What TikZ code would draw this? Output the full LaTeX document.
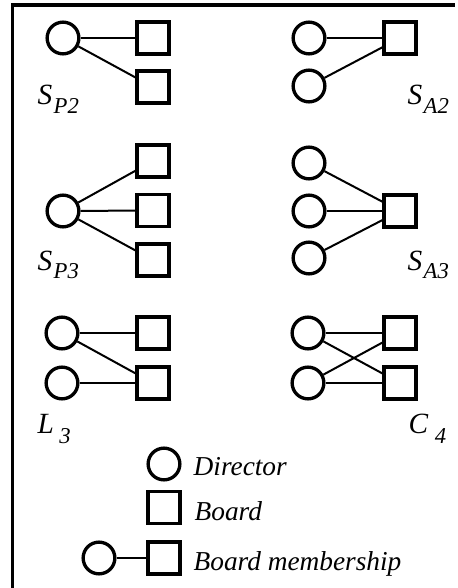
\documentclass[tikz,border=0pt]{standalone}
\usepackage{fontspec}
\setmainfont{Liberation Serif}[ItalicFont={Liberation Serif Italic}]
\newfontfamily\capfont{Liberation Serif Italic}
\usetikzlibrary{positioning}
% motif name with a lowered subscript
\newcommand{\motif}[3][6pt]{#2\kern1pt\raisebox{-#1}{\fontsize{17}{17}\selectfont #3}}

\begin{document}
\begin{tikzpicture}[x=0.75pt, y=-0.75pt, line width=2.5pt,
    director/.style={circle, draw, minimum size=23.8pt, inner sep=0pt},
    board/.style={rectangle, draw, minimum size=23.8pt, inner sep=0pt},
    tie/.style={line width=1.5pt},
    caption/.style={anchor=base west, inner sep=0pt, font=\capfont\fontsize{20.5}{21}\selectfont}]
    \useasboundingbox (0,0) rectangle (457,588);
    \draw[line width=2.6pt] (12.5,590) -- (12.5,5) -- (455,5);

    % S_P2
    \node[director] (p2d) at (63,38) {};
    \node[board] (p2a) at (153,38) {};
    \node[board] (p2b) at (153,87) {};
    \draw[tie] (p2d) -- (p2a);
    \draw[tie] (p2d) -- (p2b);
    \node[caption] (p2l) at (36,105) {\fontsize{22}{22}\selectfont\motif{S}{P2}};

    % S_A2
    \node[director] (a2a) at (309,38) {};
    \node[director] (a2b) at (309,86) {};
    \node[board] (a2d) at (400,38) {};
    \draw[tie] (a2a) -- (a2d);
    \draw[tie] (a2b) -- (a2d);
    \node[caption] (a2l) at (406,105) {\fontsize{22}{22}\selectfont\motif{S}{A2}};

    % S_P3
    \node[director] (p3d) at (63,211) {};
    \node[board] (p3a) at (153,161) {};
    \node[board] (p3b) at (153,210.5) {};
    \node[board] (p3c) at (153,260) {};
    \draw[tie] (p3d) -- (p3a);
    \draw[tie] (p3d) -- (p3b);
    \draw[tie] (p3d) -- (p3c);
    \node[caption] (p3l) at (36,270) {\fontsize{22}{22}\selectfont\motif{S}{P3}};

    % S_A3
    \node[director] (a3a) at (309,163) {};
    \node[director] (a3b) at (309,211) {};
    \node[director] (a3c) at (309,258) {};
    \node[board] (a3d) at (400,211) {};
    \draw[tie] (a3a) -- (a3d);
    \draw[tie] (a3b) -- (a3d);
    \draw[tie] (a3c) -- (a3d);
    \node[caption] (a3l) at (406,270) {\fontsize{22}{22}\selectfont\motif{S}{A3}};

    % L_3
    \node[director] (l3a) at (62,333) {};
    \node[director] (l3b) at (62,383) {};
    \node[board] (l3c) at (153,333) {};
    \node[board] (l3d) at (153,383) {};
    \draw[tie] (l3a) -- (l3c);
    \draw[tie] (l3a) -- (l3d);
    \draw[tie] (l3b) -- (l3d);
    \node[caption] (l3l) at (36,433) {\fontsize{22}{22}\selectfont\motif[8pt]{L}{\kern3pt 3}};

    % C_4
    \node[director] (c4a) at (308,333) {};
    \node[director] (c4b) at (308,383) {};
    \node[board] (c4c) at (400,333) {};
    \node[board] (c4d) at (400,383) {};
    \draw[tie] (c4a) -- (c4c);
    \draw[tie] (c4a) -- (c4d);
    \draw[tie] (c4b) -- (c4c);
    \draw[tie] (c4b) -- (c4d);
    \node[caption] (c4l) at (407,433) {\fontsize{22}{22}\selectfont\motif[8pt]{C}{\kern4pt 4}};

    % legend
    \node[director] (keyd) at (164,464) {};
    \node[caption] (keydt) at (192,475) {Director};
    \node[board] (keyb) at (164,507.5) {};
    \node[caption] (keybt) at (193,520) {Board};
    \node[director] (keymd) at (99,558) {};
    \node[board] (keymb) at (164,558) {};
    \draw[tie] (keymd) -- (keymb);
    \node[caption] (keymt) at (192,570) {Board membership};
\end{tikzpicture}
\end{document}
